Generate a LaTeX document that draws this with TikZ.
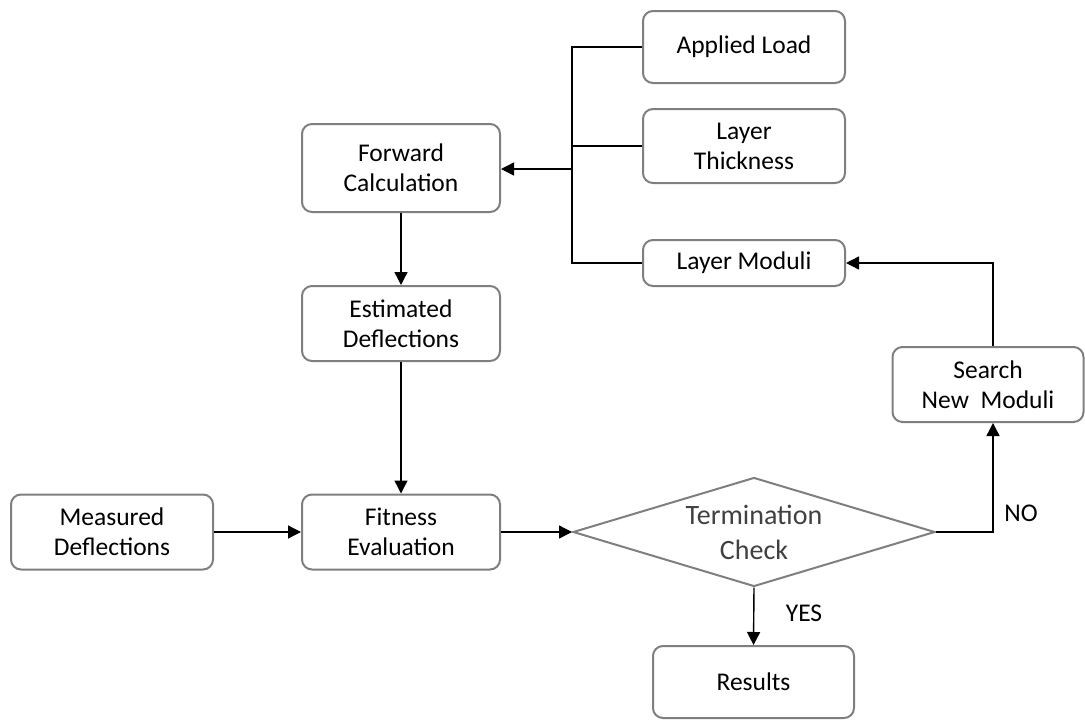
\documentclass[tikz,border=0pt]{standalone}
\usepackage{fontspec}
\setmainfont{Carlito}
\usetikzlibrary{shapes.geometric,arrows.meta}

\tikzset{
  box/.style={draw=boxgray, line width=2pt, rounded corners=10pt, fill=white,
    align=center, inner sep=0pt, font=\fontsize{25.5}{30}\selectfont},
  decision/.style={draw=boxgray, line width=2pt, diamond, inner sep=0pt, fill=white},
  conn/.style={draw=black, line width=1.4pt},
  arr/.style={conn, -{Triangle[length=13pt,width=13pt]}},
  tag/.style={font=\fontsize{25.5}{30}\selectfont, inner sep=0pt},
}
\definecolor{boxgray}{HTML}{7F7F7F}
\definecolor{dimtext}{HTML}{404040}

\begin{document}
\begin{tikzpicture}[x=1pt, y=-1pt]
  \useasboundingbox (0,0) rectangle (1085,720);

  % input boxes on the right
  \node[box, minimum width=202pt, minimum height=72pt] (al) at (744,47) {Applied Load};
  \node[box, minimum width=202pt, minimum height=74pt] (lt) at (744,146) {Layer\\Thickness};
  \node[box, minimum width=202pt, minimum height=46pt] (lm) at (744,263) {Layer Moduli};

  % main column
  \node[box, minimum width=198pt, minimum height=88pt] (fc) at (401,168) {Forward\\Calculation};
  \node[box, minimum width=198pt, minimum height=75pt] (ed) at (401,323.5) {Estimated\\Deflections};
  \node[box, minimum width=198pt, minimum height=75pt] (fe) at (401,532) {Fitness\\Evaluation};
  \node[box, minimum width=202pt, minimum height=75pt] (md) at (112,532) {Measured\\Deflections};

  % decision and outcomes
  \node[decision, minimum width=362pt, minimum height=109pt,
        label={[text=dimtext, align=center, font=\fontsize{28}{35}\selectfont]center:Termination\\Check}]
        (tc) at (754,532) {};
  \node[box, minimum width=201pt, minimum height=72pt] (rs) at (753.5,682) {Results};
  \node[box, minimum width=191pt, minimum height=75pt] (sn) at (988,384.5) {Search\\New\ \ Moduli};

  % bus collecting the inputs
  \coordinate (bt) at (572,47);
  \coordinate (bj) at (572,169);
  \coordinate (bb) at (572,263);
  \draw[conn] (al.west) -- (bt) -- (bb) -- (lm.west);
  \draw[conn] (lt.west) -- (lt.west -| bj);
  \draw[arr] (bj) -- (fc.east |- bj);

  % flow
  \draw[arr] (fc.south) -- (ed.north);
  \draw[arr] (ed.south) -- (fe.north);
  \draw[arr] (md.east) -- (fe.west);
  \draw[arr] (fe.east) -- (tc.west);
  \draw[arr] (tc.south) -- (rs.north);
  \draw[arr] (tc.east) -| ([xshift=5pt]sn.south);
  \draw[arr] ([xshift=5pt]sn.north) |- (lm.east);

  % branch labels
  \node[tag] (no) at (1021,513) {NO};
  \node[tag] (yes) at (804,613) {YES};
\end{tikzpicture}
\end{document}
